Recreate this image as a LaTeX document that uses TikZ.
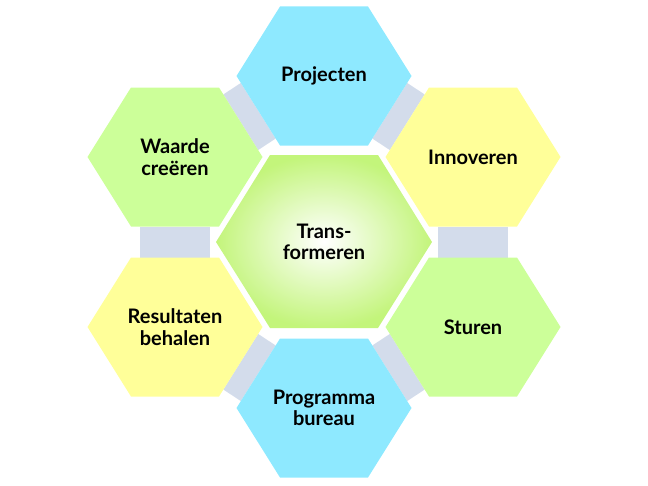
\documentclass[tikz,border=0pt]{standalone}
\usepackage{fontspec}
\setmainfont{Lato}
\usetikzlibrary{calc}
\definecolor{cyanh}{HTML}{8EE9FF}
\definecolor{yelh}{HTML}{FFFF99}
\definecolor{grnh}{HTML}{CCFF99}
\definecolor{grnc}{HTML}{B4F25A}
\definecolor{bandc}{HTML}{D3DCEB}
\tikzset{lbl/.style={font=\bfseries\fontsize{15}{16}\selectfont,align=center,text=black}}
\begin{document}
\begin{tikzpicture}[x=0.75pt,y=-0.75pt]
\useasboundingbox (0,0) rectangle (648,485);
\foreach \n/\cx/\cy in {P/324/76,I/473/157,S/473/327,G/324/408,R/175/327,W/175/157}{
  \coordinate (\n1) at (\cx-87.5,\cy);
  \coordinate (\n2) at (\cx-44,\cy-69.5);
  \coordinate (\n3) at (\cx+44,\cy-69.5);
  \coordinate (\n4) at (\cx+87.5,\cy);
  \coordinate (\n5) at (\cx+44,\cy+69.5);
  \coordinate (\n6) at (\cx-44,\cy+69.5);
}
\def\myband#1#2#3#4{\fill[bandc] ($(#1)!.1!(#2)$) -- ($(#1)!.9!(#2)$) -- ($(#3)!.1!(#4)$) -- ($(#3)!.9!(#4)$) -- cycle;}
\myband{P4}{P5}{I1}{I2}
\myband{I6}{I5}{S3}{S2}
\myband{S1}{S6}{G4}{G3}
\myband{G2}{G1}{R5}{R4}
\myband{W6}{W5}{R3}{R2}
\myband{W3}{W4}{P6}{P1}
\foreach \n/\c in {P/cyanh,I/yelh,S/grnh,G/cyanh,R/yelh,W/grnh}{
  \fill[\c] (\n1)--(\n2)--(\n3)--(\n4)--(\n5)--(\n6)--cycle;
}
\shade[inner color=white,outer color=grnc!80!white] (216,242)--(270,155)--(378,155)--(432,242)--(378,328)--(270,328)--cycle;
\node[lbl] (tP) at (324,76) {Projecten};
\node[lbl] (tI) at (473,157) {Innoveren};
\node[lbl] (tS) at (473,327) {Sturen};
\node[lbl] (tG) at (324,408) {Programma\\bureau};
\node[lbl] (tR) at (175,327) {Resultaten\\behalen};
\node[lbl] (tW) at (175,157) {Waarde\\creëren};
\node[lbl] (tC) at (324,242) {Trans-\\formeren};
\end{tikzpicture}
\end{document}
